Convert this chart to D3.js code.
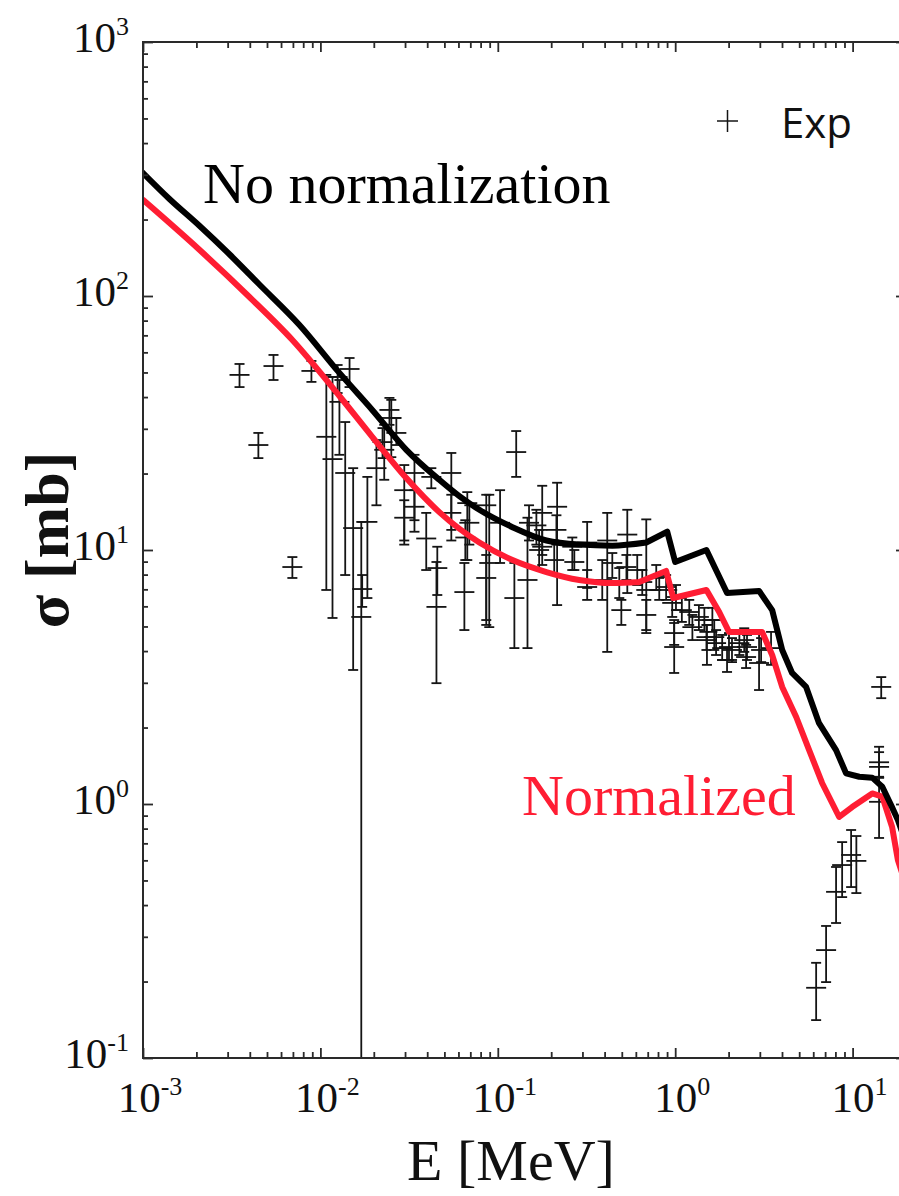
<!DOCTYPE html>
<html>
<head>
<meta charset="utf-8">
<script src="https://cdn.jsdelivr.net/npm/d3@7"></script>
<style>
  html, body { margin: 0; padding: 0; background: #fff; }
  svg { display: block; }
</style>
</head>
<body>
<svg id="chart" width="899" height="1196"></svg>
<script>
// ---- Calculated cross section, no normalization (E in MeV, sigma in mb)
const noNormE = [0.001, 0.00141, 0.00208, 0.00307, 0.00453, 0.00762, 0.0128, 0.0196, 0.0305, 0.0468,
  0.0607, 0.0787, 0.121, 0.188, 0.288, 0.442, 0.687, 0.902, 1.0, 1.50, 1.72, 1.96, 2.97, 3.52, 4.01, 4.56,
  5.47, 6.47, 8.07, 9.19, 10.9, 12.9, 14.7, 16.7, 18.0, 20.0];
const noNormSigma = [305, 241, 189, 146, 111, 76.9, 49.8, 35.6, 24.8, 18.9,
  16.3, 14.4, 12.3, 10.9, 10.5, 10.4, 10.7, 11.8, 8.97, 10.0, 8.19, 6.77, 6.90, 5.80, 4.04, 3.28,
  2.89, 2.08, 1.63, 1.32, 1.28, 1.27, 1.17, 0.97, 0.865, 0.70];

// ---- Calculated cross section, normalized
const normE = [0.001, 0.00208, 0.00398, 0.00695, 0.0128, 0.0196, 0.0305, 0.0468, 0.0787, 0.121,
  0.188, 0.288, 0.442, 0.627, 0.889, 0.975, 1.50, 1.77, 2.01, 3.09, 3.52, 4.01, 4.81, 5.69, 6.73,
  8.40, 9.94, 12.9, 14.7, 16.7, 18.0, 20.0];
const normSigma = [239, 152, 99.1, 67.1, 40.4, 27.9, 19.2, 14.1, 10.7, 9.13,
  8.19, 7.62, 7.41, 7.48, 8.27, 6.47, 6.96, 5.70, 4.76, 4.76, 3.86, 2.89, 2.20, 1.63, 1.21,
  0.889, 0.973, 1.10, 1.07, 0.812, 0.602, 0.48];

// Energy (MeV) above which the calculated curves are drawn as straight segments
const smoothBelowE = 0.7;

// ---- Experimental points: energy, cross section, lower and upper error bounds
const expE = [0.00350, 0.00544, 0.00447, 0.00695, 0.0089, 0.0108, 0.0117, 0.0128, 0.0146, 0.0125,
  0.0138, 0.0153, 0.0172, 0.0170, 0.0184, 0.0207, 0.0229, 0.0251, 0.0245, 0.0268,
  0.0224, 0.0297, 0.0297, 0.0339, 0.0339, 0.0395, 0.0422, 0.0456, 0.0451, 0.0547,
  0.0547, 0.0673, 0.0656, 0.0648, 0.0691, 0.0861, 0.0861, 0.0895, 0.103, 0.127,
  0.124, 0.147, 0.150, 0.165, 0.171, 0.178, 0.216, 0.214, 0.208, 0.178,
  0.263, 0.270, 0.319, 0.319, 0.414, 0.388, 0.442, 0.484, 0.497, 0.537,
  0.531, 0.611, 0.687, 0.687, 0.652, 0.782, 0.813, 0.889, 0.962, 1.01,
  0.987, 0.987, 1.09, 1.20, 1.25, 1.36, 1.46, 1.50, 1.62, 1.70,
  1.51, 1.66, 1.84, 2.01, 1.96, 2.09, 2.30, 2.45, 2.54, 2.51,
  2.97, 3.05, 3.47, 14.5, 14.1, 14.1, 14.1, 6.23, 7.09, 8.07,
  8.73, 9.81, 10.5];
const expSigma = [48.9, 53.0, 25.9, 8.57, 50.7, 27.9, 22.8, 38.3, 51.6, 48.0,
  20.1, 12.2, 7.02, 5.45, 12.9, 21.0, 24.8, 33.1, 35.6, 28.9,
  26.6, 17.2, 13.4, 20.1, 14.8, 11.1, 19.4, 8.49, 5.97, 20.1,
  14.0, 15.3, 11.2, 6.83, 12.8, 15.0, 7.76, 8.89, 12.8, 24.3,
  6.47, 7.62, 12.8, 12.5, 10.0, 14.0, 14.8, 12.0, 9.13, 10.3,
  10.3, 8.97, 10.7, 7.15, 10.9, 7.62, 8.89, 7.41, 5.80, 11.5,
  8.57, 8.34, 6.96, 5.55, 7.48, 7.83, 6.96, 7.15, 6.19, 6.53,
  4.71, 4.15, 5.80, 5.70, 4.97, 5.45, 5.30, 4.54, 5.30, 4.30,
  4.42, 4.54, 4.11, 4.15, 3.69, 4.04, 4.30, 4.42, 4.15, 3.79,
  3.59, 4.04, 4.11, 2.89, 1.46, 1.40, 1.02, 0.189, 0.266, 0.451,
  0.575, 0.630, 0.597];
const expLo = [43.8, 46.7, 23.0, 7.76, 45.9, 6.96, 5.40, 23.7, 43.8, 41.5,
  7.97, 3.37, 5.97, 0.01, 6.47, 15.0, 18.9, 23.2, 31.1, 25.9,
  23.0, 10.5, 10.9, 11.8, 13.1, 8.34, 17.5, 6.65, 2.99, 10.9,
  12.0, 9.13, 9.13, 4.84, 10.5, 5.30, 5.07, 4.97, 8.89, 19.4,
  4.11, 4.11, 10.9, 10.5, 8.34, 9.56, 6.07, 10.5, 7.97, 8.73,
  8.34, 8.34, 7.09, 6.36, 3.97, 6.36, 7.76, 6.47, 5.07, 6.77,
  7.62, 7.28, 4.71, 4.84, 6.65, 6.96, 6.36, 6.36, 5.45, 5.80,
  4.23, 3.28, 5.21, 5.07, 4.42, 4.84, 4.76, 4.04, 4.76, 3.86,
  3.53, 4.04, 3.69, 3.69, 3.31, 3.62, 3.86, 3.97, 3.69, 3.43,
  2.81, 3.62, 3.53, 2.61, 1.27, 1.27, 0.735, 0.141, 0.199, 0.340,
  0.430, 0.471, 0.446];
const expHi = [54.0, 58.6, 28.9, 9.38, 55.5, 48.9, 48.0, 46.7, 57.0, 53.5,
  31.9, 21.0, 7.97, 12.9, 19.4, 27.1, 31.1, 39.0, 39.7, 33.1,
  30.2, 21.6, 15.7, 23.7, 17.2, 14.0, 21.0, 10.3, 8.97, 24.1,
  16.5, 16.9, 13.1, 8.89, 15.0, 16.5, 9.56, 16.5, 17.2, 29.4,
  8.89, 13.4, 15.0, 14.4, 12.0, 17.9, 18.4, 13.7, 10.9, 12.0,
  11.2, 10.0, 12.9, 8.34, 14.0, 9.13, 9.73, 8.49, 6.36, 14.4,
  9.56, 9.56, 13.2, 6.36, 8.34, 8.73, 7.76, 7.97, 6.96, 7.28,
  5.30, 5.16, 6.47, 6.36, 5.55, 6.07, 5.92, 5.07, 5.92, 4.84,
  5.07, 5.30, 4.63, 4.71, 4.11, 4.50, 4.84, 4.92, 4.63, 4.23,
  4.71, 4.50, 4.76, 3.16, 1.68, 1.60, 1.28, 0.237, 0.331, 0.565,
  0.708, 0.790, 0.748];

// ---- Axis decades (labels are 10^exponent)
const xTickExponents = [-3, -2, -1, 0, 1];
const yTickExponents = [-1, 0, 1, 2, 3];

const svg = d3.select("#chart");
const frame = { left: 143, top: 42, right: 906, bottom: 1058 };
const serif = "'Liberation Serif', 'Times New Roman', serif";
const RED = "#ff1d33";

const x = d3.scaleLog().domain([1e-3, 20]).range([frame.left, frame.right]);
const y = d3.scaleLog().domain([0.1, 1000]).range([frame.bottom, frame.top]);

svg.append("defs").append("clipPath").attr("id", "plotClip")
  .append("rect")
  .attr("x", frame.left).attr("y", frame.top)
  .attr("width", frame.right - frame.left).attr("height", frame.bottom - frame.top);

// ---- Experimental data: error bars with caps and a "+" marker
const pts = expE.map((e, i) => ({ e, s: expSigma[i], lo: expLo[i], hi: expHi[i] }));
const gExp = svg.append("g").attr("clip-path", "url(#plotClip)")
  .attr("stroke", "#141414").attr("stroke-width", 1.8).attr("fill", "none");
const cap = 5, arm = 10;
pts.forEach(p => {
  const cx = x(p.e), cy = y(p.s);
  const yHi = y(p.hi), yLo = y(Math.max(p.lo, 0.05));
  gExp.append("line").attr("x1", cx).attr("x2", cx).attr("y1", yHi).attr("y2", yLo);
  gExp.append("line").attr("x1", cx - cap).attr("x2", cx + cap).attr("y1", yHi).attr("y2", yHi);
  if (p.lo >= 0.1) {
    gExp.append("line").attr("x1", cx - cap).attr("x2", cx + cap).attr("y1", yLo).attr("y2", yLo);
  }
  gExp.append("line").attr("x1", cx - arm).attr("x2", cx + arm).attr("y1", cy).attr("y2", cy);
});

// ---- Calculated curves: smooth at low energy, straight segments through the resonance steps
const smoothLine = d3.line().x(d => x(d[0])).y(d => y(d[1])).curve(d3.curveMonotoneX);
const straightLine = d3.line().x(d => x(d[0])).y(d => y(d[1])).curve(d3.curveLinear);
function curvePath(es, ss) {
  const pts = es.map((e, i) => [e, ss[i]]);
  const k = pts.findIndex(p => p[0] > smoothBelowE);
  return smoothLine(pts.slice(0, k)) + straightLine(pts.slice(k - 1));
}
const gCurves = svg.append("g").attr("clip-path", "url(#plotClip)").attr("fill", "none")
  .attr("stroke-width", 6).attr("stroke-linejoin", "round").attr("stroke-linecap", "round");
gCurves.append("path").attr("stroke", RED).attr("d", curvePath(normE, normSigma));
gCurves.append("path").attr("stroke", "#000").attr("d", curvePath(noNormE, noNormSigma));

// ---- Frame and inward ticks on all four sides
const decadesX = xTickExponents.map(k => Math.pow(10, k));
const decadesY = yTickExponents.map(k => Math.pow(10, k));
const isDecade = v => Math.abs(Math.log10(v) - Math.round(Math.log10(v))) < 1e-9;
const minorX = x.ticks().filter(v => !isDecade(v));
const minorY = y.ticks().filter(v => !isDecade(v));

function addAxis(axisFn, scale, values, size, transform) {
  const g = svg.append("g").attr("transform", transform)
    .call(axisFn(scale).tickValues(values).tickSize(size).tickFormat(""));
  g.select(".domain").remove();
  g.selectAll(".tick line").attr("stroke", "#2a2a2a").attr("stroke-width", 1.8);
}
const bottomT = `translate(0,${frame.bottom})`, topT = `translate(0,${frame.top})`;
const leftT = `translate(${frame.left},0)`, rightT = `translate(${frame.right},0)`;
addAxis(d3.axisBottom, x, decadesX, -10, bottomT);
addAxis(d3.axisBottom, x, minorX, -6, bottomT);
addAxis(d3.axisTop, x, decadesX, -10, topT);
addAxis(d3.axisTop, x, minorX, -6, topT);
addAxis(d3.axisLeft, y, decadesY, -10, leftT);
addAxis(d3.axisLeft, y, minorY, -5, leftT);
addAxis(d3.axisRight, y, decadesY, -10, rightT);
addAxis(d3.axisRight, y, minorY, -5, rightT);

svg.append("rect")
  .attr("x", frame.left).attr("y", frame.top)
  .attr("width", frame.right - frame.left).attr("height", frame.bottom - frame.top)
  .attr("fill", "none").attr("stroke", "#2a2a2a").attr("stroke-width", 2);

// ---- Tick labels 10^k
function powerLabel(g, k) {
  g.append("tspan").text("10");
  g.append("tspan").attr("font-size", 26).attr("dy", -17).text(String(k));
}
xTickExponents.forEach(k => {
  const t = svg.append("text")
    .attr("x", x(Math.pow(10, k)) + 7).attr("y", frame.bottom + 54)
    .attr("text-anchor", "middle")
    .attr("font-family", serif).attr("font-size", 43).attr("fill", "#111");
  powerLabel(t, k);
});
yTickExponents.forEach(k => {
  const t = svg.append("text")
    .attr("x", frame.left - 14).attr("y", y(Math.pow(10, k)) + 10)
    .attr("text-anchor", "end")
    .attr("font-family", serif).attr("font-size", 43).attr("fill", "#111");
  powerLabel(t, k);
});

// ---- Axis titles
svg.append("text")
  .attr("x", 511).attr("y", 1180).attr("text-anchor", "middle")
  .attr("font-family", serif).attr("font-size", 58).attr("fill", "#111")
  .text("E [MeV]");
svg.append("text")
  .attr("transform", "translate(68,540) rotate(-90)").attr("text-anchor", "middle")
  .attr("font-family", serif).attr("font-size", 62).attr("font-weight", "bold").attr("fill", "#111")
  .text("σ [mb]");

// ---- Curve annotations
svg.append("text")
  .attr("x", 203).attr("y", 203)
  .attr("font-family", serif).attr("font-size", 58).attr("fill", "#000")
  .text("No normalization");
svg.append("text")
  .attr("x", 522).attr("y", 815)
  .attr("font-family", serif).attr("font-size", 58).attr("fill", RED)
  .text("Normalized");

// ---- Legend
const lg = svg.append("g").attr("stroke", "#141414").attr("stroke-width", 1.5);
lg.append("line").attr("x1", 717).attr("x2", 738).attr("y1", 121).attr("y2", 121);
lg.append("line").attr("x1", 727.5).attr("x2", 727.5).attr("y1", 110).attr("y2", 132);
svg.append("text")
  .attr("x", 781).attr("y", 138)
  .attr("font-family", "'Open Sans', sans-serif").attr("font-size", 42).attr("fill", "#111")
  .text("Exp");
</script>
</body>
</html>
